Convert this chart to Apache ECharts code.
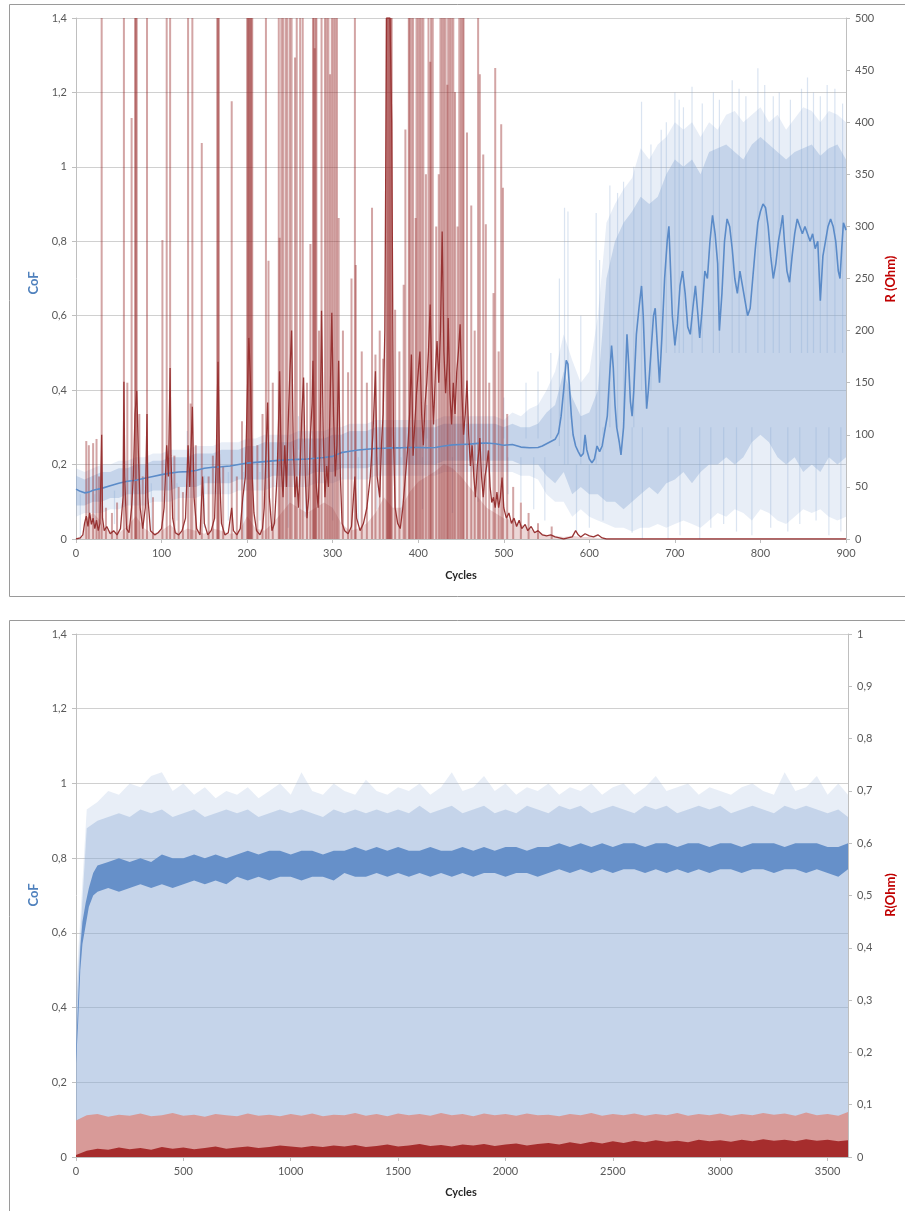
<!DOCTYPE html>
<html>
<head>
<meta charset="utf-8">
<script src="https://cdn.jsdelivr.net/npm/echarts@6/dist/echarts.min.js"></script>
<style>
  html, body { margin: 0; padding: 0; background: #fff; }
  #chart { width: 905px; height: 1211px; }
</style>
</head>
<body>
<div id="chart"></div>
<script>
// ---------- Test A: 0–900 cycles ----------
// Friction band (raw CoF) sampled every 10 cycles: dense core and outer extremes
const topCofInnerLow = [
  0.09,0.09,0.10,0.10,0.11,0.11,0.12,0.12,0.12,0.13,
  0.13,0.13,0.14,0.14,0.14,0.15,0.15,0.15,0.15,0.16,
  0.16,0.16,0.16,0.17,0.17,0.17,0.17,0.17,0.18,0.18,
  0.18,0.19,0.19,0.19,0.19,0.20,0.20,0.20,0.20,0.20,
  0.20,0.20,0.20,0.21,0.21,0.21,0.21,0.21,0.21,0.21,
  0.21,0.21,0.20,0.20,0.20,0.17,0.15,0.18,0.12,0.14,
  0.12,0.12,0.10,0.10,0.08,0.10,0.12,0.14,0.12,0.15,
  0.16,0.18,0.15,0.18,0.20,0.20,0.22,0.20,0.22,0.26,
  0.28,0.26,0.22,0.20,0.22,0.18,0.20,0.18,0.22,0.20,
  0.22
];
const topCofInnerHigh = [
  0.17,0.16,0.17,0.18,0.18,0.19,0.19,0.20,0.20,0.21,
  0.21,0.22,0.22,0.22,0.23,0.23,0.23,0.24,0.24,0.24,
  0.25,0.25,0.26,0.26,0.26,0.26,0.27,0.27,0.27,0.27,
  0.28,0.28,0.29,0.29,0.29,0.30,0.30,0.30,0.30,0.30,
  0.30,0.30,0.30,0.31,0.31,0.31,0.31,0.31,0.31,0.31,
  0.30,0.31,0.30,0.30,0.31,0.34,0.36,0.45,0.38,0.33,
  0.34,0.40,0.70,0.80,0.85,0.88,0.92,0.90,0.92,0.98,
  1.02,1.00,1.02,0.98,1.04,1.05,1.06,1.04,1.02,1.06,
  1.08,1.06,1.04,1.02,1.04,1.05,1.06,1.03,1.05,1.06,
  1.02
];
const topCofOuterLow = [
  0.06,0.07,0.07,0.07,0.08,0.08,0.09,0.09,0.09,0.10,
  0.10,0.10,0.11,0.11,0.11,0.12,0.12,0.12,0.12,0.13,
  0.13,0.13,0.13,0.14,0.14,0.14,0.14,0.14,0.15,0.15,
  0.15,0.16,0.16,0.16,0.16,0.17,0.17,0.17,0.17,0.17,
  0.17,0.17,0.17,0.18,0.18,0.18,0.18,0.18,0.18,0.18,
  0.18,0.18,0.17,0.17,0.16,0.12,0.10,0.10,0.06,0.08,
  0.06,0.05,0.04,0.03,0.03,0.02,0.03,0.03,0.04,0.03,
  0.04,0.05,0.04,0.03,0.05,0.07,0.06,0.08,0.07,0.05,
  0.08,0.07,0.05,0.04,0.06,0.08,0.07,0.08,0.06,0.05,
  0.06
];
const topCofOuterHigh = [
  0.19,0.18,0.19,0.20,0.20,0.21,0.21,0.22,0.22,0.23,
  0.23,0.24,0.24,0.24,0.25,0.25,0.25,0.26,0.26,0.26,
  0.27,0.27,0.28,0.28,0.28,0.28,0.29,0.29,0.29,0.29,
  0.30,0.30,0.31,0.31,0.31,0.32,0.32,0.32,0.32,0.32,
  0.32,0.32,0.32,0.33,0.33,0.33,0.33,0.33,0.33,0.33,
  0.32,0.34,0.33,0.35,0.36,0.40,0.45,0.55,0.48,0.42,
  0.45,0.60,0.85,0.90,0.94,0.97,1.05,1.02,1.06,1.08,
  1.12,1.10,1.12,1.08,1.12,1.10,1.14,1.15,1.12,1.14,
  1.16,1.12,1.14,1.10,1.13,1.16,1.15,1.12,1.15,1.14,
  1.12
];
// Isolated excursions of the raw CoF [cycle, from, to]
const topCofStreaks = [
  [5,0.00,0.12],[22,0.03,0.12],[45,0.04,0.13],[88,0.02,0.15],[118,0.05,0.15],[130,0.20,0.29],
  [150,0.03,0.17],[178,0.05,0.18],[196,0.00,0.18],[215,0.05,0.18],[248,0.03,0.20],[260,0.24,0.33],
  [268,0.06,0.20],[300,0.05,0.20],[330,0.04,0.22],[352,0.08,0.22],[380,0.06,0.22],[405,0.08,0.22],
  [410,0.27,0.36],[440,0.07,0.22],[470,0.10,0.22],[500,0.27,0.38],[505,0.12,0.22],[520,0.10,0.22],
  [526,0.27,0.42],[535,0.08,0.22],[540,0.27,0.45],[548,0.05,0.22],[555,0.27,0.50],[565,0.25,0.70],
  [571,0.20,0.89],[575,0.20,0.88],[585,0.02,0.20],[590,0.20,0.60],[600,0.03,0.20],[608,0.20,0.876],
  [612,0.25,0.75],[616,0.05,0.30],[624,0.30,0.95],[633,0.30,0.93],[640,0.30,0.96],[650,0.017,0.30],
  [652,0.30,1.00],[661,0.40,1.175],[662,0.00,0.30],[672,0.40,1.06],[684,0.50,1.10],[690,0.50,1.12],
  [692,0.00,0.30],[700,0.50,1.20],[705,0.50,1.18],[706,0.01,0.30],[710,0.50,1.16],[720,0.50,1.215],
  [729,0.00,0.30],[732,0.50,1.17],[742,0.03,0.30],[745,0.50,1.20],[752,0.50,1.18],[757,0.04,0.30],
  [767,0.50,1.233],[772,0.02,0.30],[775,0.50,1.21],[783,0.50,1.19],[790,0.01,0.30],[797,0.50,1.265],
  [805,0.50,1.22],[812,0.03,0.30],[815,0.50,1.19],[822,0.50,1.20],[832,0.02,0.30],[835,0.50,1.18],
  [846,0.04,0.30],[848,0.50,1.21],[855,0.50,1.24],[862,0.50,1.20],[865,0.05,0.30],[870,0.50,1.19],
  [878,0.50,1.22],[880,0.01,0.30],[887,0.50,1.21],[894,0.02,0.30],[896,0.50,1.17]
];

// Averaged CoF [cycle, CoF]
const topCofMean = [
  [0,0.134],[5,0.128],[10,0.124],[15,0.126],[20,0.131],[30,0.136],[40,0.143],[50,0.150],
  [60,0.155],[70,0.158],[80,0.163],[90,0.168],[100,0.173],[110,0.177],[120,0.180],[130,0.181],
  [140,0.184],[150,0.190],[160,0.193],[170,0.194],[180,0.196],[190,0.200],[200,0.204],[210,0.206],
  [220,0.208],[230,0.210],[240,0.212],[250,0.213],[260,0.214],[270,0.215],[280,0.217],[290,0.219],
  [300,0.222],[310,0.232],[320,0.236],[330,0.239],[340,0.241],[350,0.243],[360,0.244],[370,0.245],
  [380,0.245],[390,0.246],[400,0.246],[410,0.245],[420,0.246],[430,0.250],[440,0.253],[450,0.254],
  [460,0.255],[470,0.257],[480,0.258],[490,0.256],[500,0.252],[510,0.254],[520,0.247],[530,0.245],
  [540,0.246],[545,0.250],[550,0.256],[555,0.262],[560,0.268],[564,0.285],[567,0.33],[570,0.40],
  [573,0.48],[575,0.47],[577,0.40],[579,0.33],[581,0.28],[584,0.25],[587,0.235],[590,0.222],
  [593,0.23],[595,0.28],[597,0.24],[600,0.215],[603,0.205],[606,0.215],[609,0.25],[612,0.235],
  [615,0.25],[618,0.29],[621,0.33],[624,0.45],[626,0.52],[628,0.46],[630,0.36],[632,0.30],
  [635,0.26],[637,0.226],[640,0.30],[642,0.42],[644,0.55],[646,0.47],[648,0.37],[650,0.33],
  [652,0.40],[655,0.55],[658,0.62],[661,0.68],[663,0.60],[665,0.47],[667,0.35],[669,0.40],
  [672,0.50],[675,0.60],[677,0.62],[680,0.50],[682,0.42],[685,0.55],[688,0.70],[691,0.80],
  [693,0.84],[695,0.72],[697,0.60],[700,0.52],[703,0.58],[706,0.68],[709,0.72],[712,0.66],
  [715,0.57],[718,0.55],[721,0.62],[724,0.68],[727,0.60],[729,0.54],[732,0.62],[735,0.72],
  [738,0.70],[741,0.80],[744,0.87],[747,0.82],[750,0.74],[752,0.56],[755,0.66],[758,0.80],
  [761,0.86],[764,0.84],[767,0.78],[770,0.70],[773,0.66],[776,0.72],[779,0.68],[782,0.64],
  [785,0.60],[788,0.62],[791,0.70],[794,0.78],[797,0.85],[800,0.88],[803,0.90],[806,0.89],
  [809,0.84],[812,0.76],[815,0.70],[818,0.74],[821,0.80],[824,0.84],[826,0.87],[828,0.80],
  [831,0.72],[834,0.69],[837,0.76],[840,0.82],[843,0.86],[846,0.84],[849,0.82],[852,0.84],
  [855,0.82],[858,0.80],[861,0.82],[864,0.78],[867,0.80],[870,0.64],[873,0.76],[876,0.80],
  [879,0.84],[882,0.86],[885,0.84],[888,0.80],[891,0.72],[893,0.70],[895,0.78],[897,0.85],
  [900,0.83]
];

// Raw contact resistance peaks [cycle, Ohm] (values at the top are clipped at 500)
const topRSpikes = [
  [12,94],[15,90],[20,92],[24,96],[27,60],[30,500],[35,30],[42,25],[48,35],[56,500],
  [60,150],[65,404],[69,500],[70,500],[71,500],[74,120],[78,60],[83,500],[90,40],[101,287],
  [106,500],[110,500],[115,80],[120,50],[125,45],[131,500],[134,130],[136,500],[140,90],[147,380],
  [155,60],[160,80],[165,500],[166,500],[167,500],[172,70],[182,420],[188,60],[194,113],[200,500],
  [201,500],[202,500],[203,500],[204,500],[205,500],[206,500],[212,90],[218,120],[222,500],[225,267],
  [230,150],[237,500],[238,289],[240,500],[242,500],[245,500],[247,500],[250,500],[252,500],[256,462],
  [258,500],[262,500],[265,500],[270,150],[274,283],[277,500],[278,500],[279,471],[280,500],[281,500],
  [284,200],[287,500],[291,500],[293,500],[295,500],[297,446],[299,500],[301,500],[303,500],[305,500],
  [307,308],[312,200],[318,160],[322,250],[326,500],[327,263],[334,180],[340,150],[346,318],[350,177],
  [355,200],[359,173],[363,500],[364,500],[365,500],[366,500],[367,500],[368,500],[369,500],[373,220],
  [378,180],[383,244],[385,393],[389,500],[390,500],[392,500],[394,500],[397,308],[398,500],[400,500],
  [402,500],[404,500],[406,500],[409,350],[412,500],[414,458],[415,500],[417,500],[421,300],[424,350],
  [426,500],[428,500],[430,500],[432,500],[434,436],[435,500],[437,500],[439,500],[441,500],[443,429],
  [446,300],[448,500],[450,500],[452,500],[453,500],[457,390],[462,320],[466,200],[470,500],[472,446],
  [476,369],[479,302],[483,150],[488,236],[490,452],[494,180],[497,398],[499,337],[504,120],[511,50],
  [520,35],[529,25],[540,15],[556,12]
];

// Dense low-level part of the raw resistance signal [cycle, Ohm]
const topRBase = [
  [0,0],[8,2],[12,20],[20,25],[28,18],[32,10],[40,8],[50,6],[60,12],[70,22],[80,10],[90,5],
  [100,8],[110,14],[120,5],[130,10],[140,8],[150,5],[160,10],[170,8],[180,5],[190,6],[200,22],
  [210,10],[220,8],[230,15],[240,25],[250,35],[260,30],[270,25],[280,30],[290,35],[300,30],
  [310,15],[320,8],[330,10],[340,15],[350,25],[360,40],[370,30],[380,30],[390,45],[400,55],
  [410,60],[420,65],[430,72],[440,68],[450,60],[460,50],[470,40],[480,30],[490,25],[500,20],
  [510,18],[520,14],[530,10],[540,6],[550,4],[560,3],[570,2],[580,3],[590,2],[600,2],[610,1],
  [620,0],[900,0]
];

// Averaged contact resistance [cycle, Ohm]
const topRMean = [
  [0,0],[5,1],[8,4],[10,15],[12,22],[14,12],[16,25],[18,14],[20,20],[22,10],[24,18],[26,8],
  [28,15],[30,100],[31,20],[33,8],[36,12],[40,5],[44,8],[48,4],[52,10],[55,40],[56,151],[57,60],
  [59,10],[62,6],[65,30],[67,60],[69,120],[71,142],[73,80],[75,30],[78,10],[81,30],[83,120],[84,40],
  [87,8],[92,4],[96,6],[100,10],[103,30],[106,90],[108,60],[110,164],[111,80],[113,20],[116,6],[120,4],
  [124,8],[128,20],[131,90],[133,50],[136,127],[138,40],[141,10],[145,4],[148,60],[150,15],[154,4],[158,8],
  [162,20],[164,80],[166,170],[168,60],[170,15],[174,4],[178,6],[182,30],[184,8],[188,4],[192,10],[195,40],
  [198,60],[200,130],[202,193],[204,150],[206,60],[208,25],[211,8],[215,4],[218,10],[220,30],[222,80],[224,131],
  [226,40],[229,8],[232,15],[235,60],[237,120],[238,161],[240,70],[242,40],[244,90],[246,50],[248,110],[250,160],
  [252,200],[254,90],[256,40],[258,60],[260,30],[262,70],[264,120],[266,155],[268,60],[270,20],[272,40],[274,100],
  [276,130],[277,171],[279,90],[281,50],[283,30],[285,80],[287,219],[289,100],[291,40],[293,70],[295,50],[297,130],
  [299,217],[301,120],[303,60],[305,90],[307,171],[309,60],[311,15],[314,8],[318,5],[322,12],[326,60],[328,20],
  [332,8],[336,15],[340,30],[344,60],[347,100],[350,161],[352,60],[355,40],[357,90],[359,120],[361,200],[363,500],
  [365,500],[367,500],[369,400],[371,100],[373,30],[376,15],[379,10],[382,30],[385,60],[388,90],[390,120],[392,177],
  [394,80],[396,110],[398,140],[400,160],[402,180],[404,120],[406,90],[408,130],[410,150],[412,180],[414,225],[416,150],
  [418,110],[420,160],[422,190],[424,150],[426,200],[428,295],[430,180],[432,140],[434,170],[435,212],[437,140],[439,110],
  [441,150],[443,120],[445,160],[447,180],[449,206],[451,140],[453,100],[455,120],[457,152],[459,100],[461,70],[463,90],
  [465,60],[467,40],[469,70],[471,85],[472,97],[474,60],[476,40],[478,60],[480,70],[482,85],[484,50],[486,35],
  [488,40],[490,30],[492,45],[494,30],[496,40],[498,59],[500,30],[503,20],[506,25],[509,15],[512,20],[515,12],
  [518,18],[521,10],[525,14],[528,8],[532,12],[536,6],[540,8],[545,4],[550,3],[555,4],[560,2],[565,1],
  [570,0],[575,1],[580,2],[584,8],[587,4],[590,2],[595,5],[600,3],[605,2],[610,4],[615,1],[620,0],
  [625,0],[900,0]
];

// ---------- Test B: 0–3595 cycles ----------
// Sampled every 50 cycles; the last sample is the final cycle 3595
const botCofOuterTop = [
  0.45,0.93,0.95,0.98,0.97,1.00,0.99,1.02,1.03,0.98,
  1.00,0.97,0.99,0.96,0.98,0.97,0.99,0.96,0.98,1.00,
  0.97,1.03,0.98,0.97,1.00,0.98,0.97,1.01,0.98,0.97,
  0.99,0.98,1.00,0.97,0.99,1.03,0.98,0.99,1.02,0.98,
  1.00,0.97,0.99,0.98,1.00,0.97,0.99,0.98,1.00,0.97,
  0.99,1.00,0.97,0.99,1.02,0.98,0.99,1.00,0.97,0.99,
  0.98,0.97,0.99,1.00,0.98,0.97,1.03,0.98,0.99,1.02,
  0.97,1.00,0.97
];
const botCofInnerTop = [
  0.40,0.88,0.90,0.91,0.92,0.91,0.93,0.92,0.93,0.91,
  0.92,0.93,0.91,0.92,0.93,0.92,0.93,0.91,0.92,0.93,
  0.92,0.93,0.92,0.91,0.93,0.92,0.93,0.92,0.93,0.92,
  0.93,0.92,0.94,0.92,0.93,0.94,0.92,0.93,0.94,0.92,
  0.93,0.92,0.94,0.93,0.92,0.94,0.93,0.94,0.92,0.93,
  0.94,0.93,0.92,0.94,0.93,0.94,0.92,0.93,0.94,0.93,
  0.94,0.92,0.93,0.94,0.93,0.92,0.94,0.93,0.94,0.93,
  0.92,0.93,0.91
];
const botRRaw = [
  0.070,0.080,0.082,0.077,0.081,0.079,0.083,0.078,0.080,0.084,
  0.079,0.081,0.077,0.082,0.080,0.078,0.083,0.079,0.081,0.078,
  0.082,0.079,0.083,0.078,0.081,0.080,0.084,0.079,0.082,0.078,
  0.083,0.080,0.082,0.079,0.084,0.080,0.082,0.078,0.083,0.080,
  0.082,0.079,0.083,0.080,0.081,0.078,0.082,0.080,0.084,0.079,
  0.082,0.080,0.083,0.079,0.082,0.080,0.084,0.079,0.082,0.080,
  0.083,0.079,0.082,0.080,0.084,0.081,0.083,0.079,0.085,0.080,
  0.082,0.079,0.086
];
const botRMean = [
  0.004,0.012,0.016,0.014,0.018,0.015,0.017,0.014,0.019,0.016,
  0.018,0.015,0.017,0.020,0.016,0.018,0.020,0.017,0.019,0.022,
  0.020,0.018,0.021,0.019,0.022,0.020,0.023,0.019,0.021,0.024,
  0.020,0.022,0.025,0.021,0.023,0.020,0.024,0.022,0.025,0.021,
  0.024,0.026,0.022,0.025,0.027,0.024,0.028,0.025,0.029,0.026,
  0.030,0.027,0.031,0.028,0.032,0.029,0.031,0.028,0.033,0.030,
  0.032,0.029,0.033,0.030,0.034,0.031,0.033,0.030,0.034,0.031,
  0.033,0.030,0.032
];
// Averaged CoF spread [cycle, low, high]
const botCofMean = [
  [0,0.25,0.28],[10,0.36,0.42],[20,0.50,0.56],[30,0.57,0.63],[45,0.62,0.68],[60,0.67,0.72],
  [80,0.70,0.76],[100,0.71,0.78],[150,0.72,0.79],[200,0.71,0.80],[250,0.72,0.79],[300,0.73,0.80],
  [350,0.72,0.79],[400,0.73,0.81],[450,0.72,0.80],[500,0.73,0.80],[550,0.74,0.81],[600,0.73,0.80],
  [650,0.74,0.81],[700,0.73,0.80],[750,0.75,0.81],[800,0.74,0.82],[850,0.75,0.81],[900,0.74,0.82],
  [950,0.75,0.82],[1000,0.75,0.81],[1050,0.74,0.82],[1100,0.75,0.82],[1150,0.75,0.81],[1200,0.74,0.82],
  [1250,0.76,0.82],[1300,0.75,0.83],[1350,0.75,0.82],[1400,0.76,0.83],[1450,0.75,0.82],[1500,0.76,0.83],
  [1550,0.75,0.82],[1600,0.76,0.82],[1650,0.75,0.83],[1700,0.76,0.82],[1750,0.75,0.82],[1800,0.76,0.83],
  [1850,0.75,0.82],[1900,0.76,0.83],[1950,0.76,0.82],[2000,0.75,0.83],[2050,0.76,0.83],[2100,0.76,0.82],
  [2150,0.75,0.83],[2200,0.76,0.83],[2250,0.77,0.84],[2300,0.76,0.83],[2350,0.77,0.84],[2400,0.76,0.83],
  [2450,0.77,0.84],[2500,0.76,0.83],[2550,0.77,0.84],[2600,0.77,0.84],[2650,0.76,0.83],[2700,0.77,0.84],
  [2750,0.76,0.84],[2800,0.77,0.83],[2850,0.76,0.84],[2900,0.77,0.84],[2950,0.76,0.83],[3000,0.77,0.84],
  [3050,0.77,0.84],[3100,0.76,0.83],[3150,0.77,0.84],[3200,0.77,0.84],[3250,0.76,0.84],[3300,0.77,0.83],
  [3350,0.77,0.84],[3400,0.76,0.84],[3450,0.77,0.84],[3500,0.76,0.83],[3550,0.75,0.83],[3595,0.77,0.84]
];

// ---------- helpers ----------
const topCycle = i => i * 10;
const botCycle = i => (i < 72 ? i * 50 : 3595);
const FONT = 'Lato, "Open Sans", sans-serif';
const decimalComma = v => String(Math.round(v * 10) / 10).replace('.', ',');

// rows of [cycle, low, high] -> one filled polygon, placed through the axes' scales
function band(gridIdx, yIdx, rows, color, z) {
  return {
    type: 'custom', xAxisIndex: gridIdx, yAxisIndex: yIdx, data: rows, z: z, silent: true, clip: true,
    encode: { x: 0, y: [1, 2] },
    renderItem: function (params, api) {
      if (params.dataIndex !== 0) return null;
      const upper = rows.map(r => api.coord([r[0], r[2]]));
      const lower = rows.slice().reverse().map(r => api.coord([r[0], r[1]]));
      return { type: 'polygon', shape: { points: upper.concat(lower) }, style: { fill: color } };
    }
  };
}
// rows of [cycle, from, to] -> thin vertical strokes
function streaks(gridIdx, yIdx, rows, color, width, z) {
  return {
    type: 'custom', xAxisIndex: gridIdx, yAxisIndex: yIdx, data: rows, z: z, silent: true, clip: true,
    encode: { x: 0, y: [1, 2] },
    renderItem: function (params, api) {
      const a = api.coord([api.value(0), api.value(1)]);
      const b = api.coord([api.value(0), api.value(2)]);
      return { type: 'line', shape: { x1: a[0], y1: a[1], x2: b[0], y2: b[1] },
               style: { stroke: color, lineWidth: width } };
    }
  };
}
const rowsOf = (lowArr, highArr, fn) => lowArr.map((v, i) => [fn(i), v, highArr[i]]);
const zeroTo = (arr, fn) => arr.map((v, i) => [fn(i), 0, v]);

const axisGray = '#bfbfbf';
const labelStyle = { color: '#595959', fontSize: 11, fontFamily: FONT };

function xAxisCfg(gridIdx, max, interval) {
  return {
    type: 'value', gridIndex: gridIdx, min: 0, max: max, interval: interval,
    axisLine: { onZero: false, lineStyle: { color: axisGray } },
    axisTick: { show: true, length: 4, lineStyle: { color: axisGray } },
    axisLabel: Object.assign({ margin: 9, showMaxLabel: max % interval === 0, formatter: v => String(v) }, labelStyle),
    splitLine: { show: false }
  };
}
function leftAxisCfg(gridIdx) {
  return {
    type: 'value', gridIndex: gridIdx, position: 'left', min: 0, max: 1.4, interval: 0.2,
    axisLine: { show: true, lineStyle: { color: axisGray } },
    axisTick: { show: true, length: 4, lineStyle: { color: axisGray } },
    axisLabel: Object.assign({ margin: 9, formatter: decimalComma }, labelStyle),
    splitLine: { show: true, lineStyle: { color: '#d0d0d0', width: 1 } }
  };
}
function rightAxisCfg(gridIdx, max, interval, fmt) {
  return {
    type: 'value', gridIndex: gridIdx, position: 'right', min: 0, max: max, interval: interval,
    axisLine: { show: true, lineStyle: { color: axisGray } },
    axisTick: { show: true, length: 4, lineStyle: { color: axisGray } },
    axisLabel: Object.assign({ margin: 9, formatter: fmt }, labelStyle),
    splitLine: { show: false }
  };
}

const lightBlueOuter = 'rgba(139,171,213,0.20)';
const lightBlueInner = 'rgba(139,171,213,0.38)';

const series = [
  // Test A
  band(0, 0, rowsOf(topCofOuterLow, topCofOuterHigh, topCycle), lightBlueOuter, 1),
  band(0, 0, rowsOf(topCofInnerLow, topCofInnerHigh, topCycle), lightBlueInner, 1),
  streaks(0, 0, topCofStreaks, 'rgba(139,171,213,0.32)', 1.2, 1),
  {
    type: 'line', xAxisIndex: 0, yAxisIndex: 1, data: topRBase, symbol: 'none',
    lineStyle: { width: 0, opacity: 0 }, areaStyle: { color: 'rgba(160,50,50,0.28)' }, silent: true, z: 2
  },
  {
    type: 'bar', xAxisIndex: 0, yAxisIndex: 1, data: topRSpikes, barWidth: 2,
    itemStyle: { color: 'rgba(150,40,40,0.42)' }, silent: true, z: 2
  },
  {
    type: 'line', xAxisIndex: 0, yAxisIndex: 0, data: topCofMean, symbol: 'none',
    lineStyle: { color: '#5b8bc8', width: 1.6 }, silent: true, z: 3
  },
  {
    type: 'line', xAxisIndex: 0, yAxisIndex: 1, data: topRMean, symbol: 'none',
    lineStyle: { color: '#983333', width: 1.3 }, silent: true, z: 4
  },
  // Test B
  band(1, 2, zeroTo(botCofOuterTop, botCycle), lightBlueOuter, 1),
  band(1, 2, zeroTo(botCofInnerTop, botCycle), lightBlueInner, 1),
  band(1, 2, botCofMean, '#6690c9', 3),
  band(1, 3, zeroTo(botRRaw, botCycle), '#d89a98', 2),
  band(1, 3, zeroTo(botRMean, botCycle), '#a62d2d', 2)
];

function title(text, x, y, color) {
  return {
    type: 'text', x: x, y: y, rotation: Math.PI / 2, z: 10,
    style: { text: text, fill: color, font: 'bold 13px ' + FONT, align: 'center', verticalAlign: 'middle',
             textAlign: 'center', textVerticalAlign: 'middle' }
  };
}
function cyclesLabel(y) {
  return { type: 'text', x: 461, y: y, z: 10,
    style: { text: 'Cycles', fill: '#262626', font: 'bold 11px ' + FONT, align: 'center', verticalAlign: 'middle',
             textAlign: 'center', textVerticalAlign: 'middle' } };
}

const option = {
  animation: false,
  backgroundColor: '#ffffff',
  grid: [
    { left: 76, top: 18, width: 770, height: 521 },
    { left: 76, top: 634, width: 772, height: 523 }
  ],
  xAxis: [xAxisCfg(0, 900, 100), xAxisCfg(1, 3595, 500)],
  yAxis: [
    leftAxisCfg(0),
    rightAxisCfg(0, 500, 50, v => String(v)),
    leftAxisCfg(1),
    rightAxisCfg(1, 1, 0.1, decimalComma)
  ],
  series: series,
  graphic: [
    { type: 'rect', shape: { x: 9.5, y: 4.5, width: 900, height: 592 }, style: { fill: 'none', stroke: '#9a9a9a', lineWidth: 1 }, z: 0, silent: true },
    { type: 'rect', shape: { x: 9.5, y: 620.5, width: 900, height: 600 }, style: { fill: 'none', stroke: '#9a9a9a', lineWidth: 1 }, z: 0, silent: true },
    title('CoF', 34, 283, '#4f81bd'),
    title('R (Ohm)', 891, 279, '#c00000'),
    cyclesLabel(575),
    title('CoF', 34, 895, '#4f81bd'),
    title('R(Ohm)', 891, 895, '#c00000'),
    cyclesLabel(1192)
  ]
};

const chart = echarts.init(document.getElementById('chart'), null, { renderer: 'canvas' });
chart.setOption(option);
</script>
</body>
</html>
